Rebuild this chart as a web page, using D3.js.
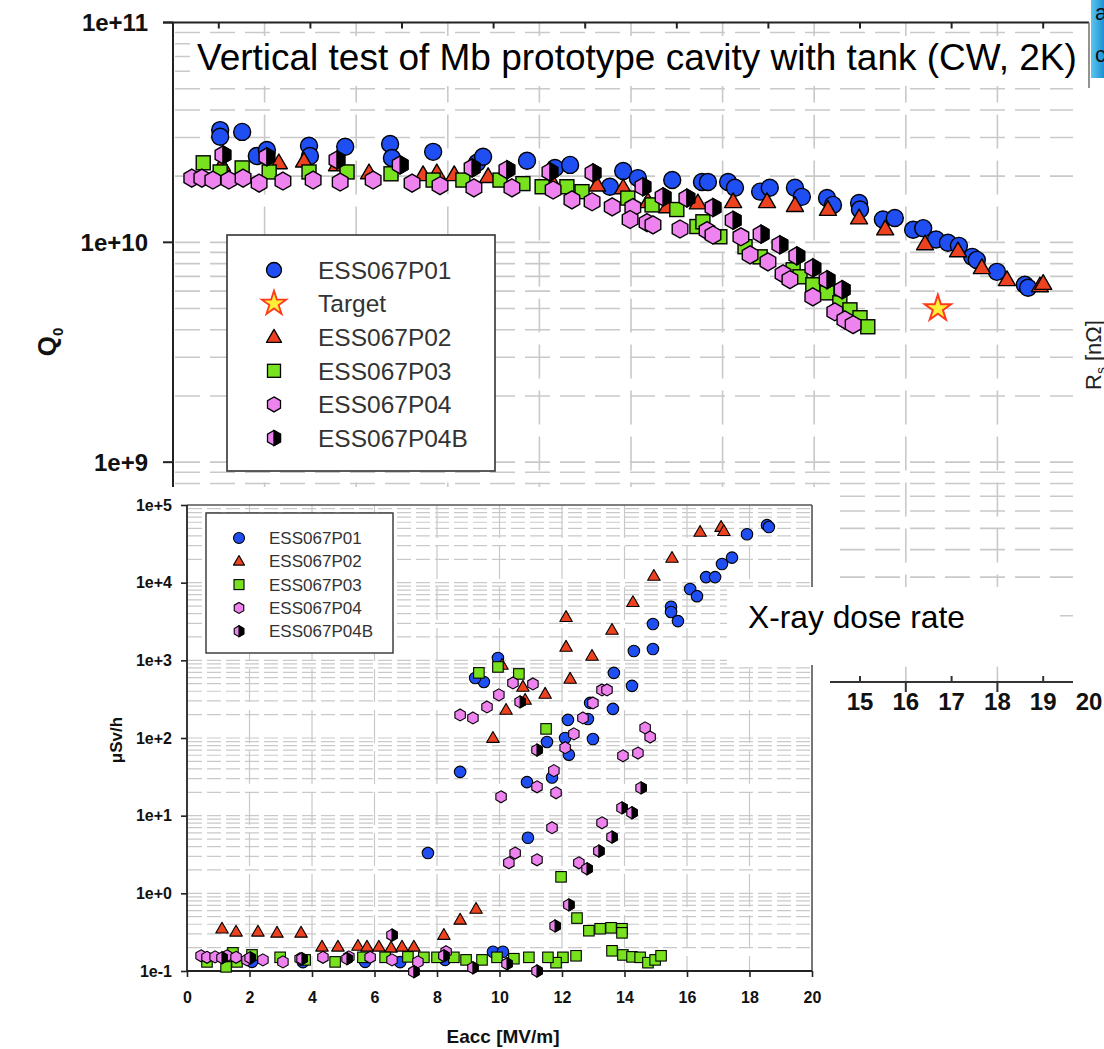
<!DOCTYPE html>
<html><head><meta charset="utf-8">
<script src="https://cdn.jsdelivr.net/npm/d3@7"></script>
<style>body{margin:0;background:#fff}svg{display:block}text{font-family:"Liberation Sans",Arial,Helvetica,sans-serif}</style>
</head><body><svg id="c" width="1104" height="1049"></svg>
<script>
// ---------------- DATA ----------------
const seriesNames = ["ESS067P01","Target","ESS067P02","ESS067P03","ESS067P04","ESS067P04B"];
const doseSeriesNames = ["ESS067P01","ESS067P02","ESS067P03","ESS067P04","ESS067P04B"];
const titleText = "Vertical test of Mb prototype cavity with tank (CW, 2K)";
const doseLabel = "X-ray dose rate";
const upperXTicks = [15,16,17,18,19,20];
const upperYTicks = [1e9,1e10,1e11];
const lowerXTicks = [0,2,4,6,8,10,12,14,16,18,20];
const lowerYTicks = [1e-1,1e0,1e1,1e2,1e3,1e4,1e5];

// Q0 vs Eacc  [Eacc (MV/m), Q0]
const q0_P01 = [[1.03,3.24e10],[1.03,3.02e10],[1.51,3.18e10],[1.83,2.47e10],[2.05,2.63e10],[2.97,2.75e10],[2.99,2.47e10],[3.76,2.72e10],[4.74,2.80e10],[4.78,2.42e10],[5.68,2.58e10],[6.64,2.30e10],[6.77,2.45e10],[7.73,2.35e10],[8.34,2.18e10],[8.67,2.25e10],[9.54,1.79e10],[9.83,2.11e10],[10.15,1.96e10],[10.90,1.92e10],[11.55,1.88e10],[11.68,1.88e10],[12.12,1.88e10],[12.27,1.77e10],[12.82,1.70e10],[13.03,1.77e10],[13.58,1.77e10],[13.73,1.61e10],[14.28,1.59e10],[14.41,1.48e10],[14.98,1.51e10],[15.0,1.41e10],[15.50,1.27e10],[15.76,1.29e10],[16.16,1.14e10],[16.38,1.16e10],[16.66,1.03e10],[16.92,9.95e9],[17.16,9.64e9],[17.45,8.59e9],[17.55,8.32e9],[17.99,7.34e9],[18.60,6.41e9],[18.67,6.21e9]];
const q0_Target = [[16.7,5.0e9]];
const q0_P02 = [[1.07,2.25e10],[2.31,2.30e10],[2.86,2.34e10],[3.58,2.25e10],[4.28,2.07e10],[5.46,2.03e10],[5.76,2.07e10],[6.14,2.03e10],[6.88,1.99e10],[8.28,1.88e10],[9.26,1.82e10],[9.83,1.77e10],[10.37,1.53e10],[10.79,1.45e10],[11.46,1.51e10],[12.23,1.53e10],[12.97,1.53e10],[13.58,1.47e10],[14.30,1.41e10],[14.98,1.29e10],[15.55,1.15e10],[16.42,9.84e9],[17.14,9.14e9],[17.66,7.66e9],[18.21,6.76e9],[18.93,6.34e9],[19.0,6.5e9]];
const q0_P03 = [[0.66,2.30e10],[1.03,2.09e10],[1.51,2.18e10],[2.10,2.09e10],[2.97,2.09e10],[3.80,2.09e10],[4.76,2.05e10],[5.68,1.92e10],[6.33,1.92e10],[7.14,1.92e10],[7.64,1.85e10],[8.06,1.79e10],[8.60,1.79e10],[8.93,1.70e10],[9.93,1.59e10],[10.46,1.48e10],[11.00,1.41e10],[11.44,1.18e10],[11.57,1.24e10],[11.94,1.06e10],[12.49,9.55e9],[12.82,8.59e9],[13.54,7.50e9],[13.69,6.97e9],[13.97,6.41e9],[14.28,5.89e9],[14.56,5.31e9],[14.78,4.93e9],[15.0,4.54e9],[15.17,4.13e9]];
const q0_P04 = [[0.41,1.96e10],[0.63,1.96e10],[0.87,1.92e10],[1.22,1.92e10],[1.53,1.96e10],[1.88,1.86e10],[2.40,1.90e10],[3.06,1.92e10],[3.65,1.88e10],[4.37,1.92e10],[5.22,1.86e10],[5.83,1.81e10],[6.57,1.77e10],[7.40,1.77e10],[8.30,1.73e10],[8.71,1.56e10],[9.15,1.53e10],[9.59,1.45e10],[10.04,1.44e10],[9.98,1.27e10],[10.35,1.23e10],[10.48,1.20e10],[11.07,1.15e10],[11.66,1.13e10],[11.79,1.08e10],[12.40,1.06e10],[12.60,8.77e9],[12.99,8.15e9],[13.32,7.19e9],[13.47,6.76e9],[13.97,5.65e9],[14.45,4.83e9],[14.67,4.44e9],[14.85,4.22e9]];
const q0_P04B = [[1.09,2.50e10],[2.05,2.45e10],[3.58,2.37e10],[4.96,2.25e10],[6.53,2.18e10],[7.29,2.14e10],[8.23,2.09e10],[9.17,2.07e10],[10.26,1.79e10],[10.70,1.61e10],[11.22,1.59e10],[11.79,1.44e10],[12.23,1.26e10],[12.84,1.09e10],[13.25,9.75e9],[13.62,8.68e9],[13.97,7.66e9],[14.28,6.76e9],[14.61,6.09e9]];

// X-ray dose rate vs Eacc  [Eacc (MV/m), dose (uSv/h)]
const dose_P01 = [[18.56,5.5e4],[18.62,5.2e4],[17.92,4.2e4],[17.44,2.1e4],[17.12,1.74e4],[16.61,1.18e4],[16.90,1.18e4],[16.10,8.3e3],[16.32,6.7e3],[15.49,4.9e3],[15.49,4.2e3],[15.71,3.2e3],[14.91,2.94e3],[14.91,1.40e3],[14.30,1.32e3],[13.66,689],[14.24,469],[13.63,237],[12.90,283],[12.83,176],[12.19,171],[12.10,100],[12.99,97],[11.52,89],[12.22,61],[9.95,1074],[9.50,527],[9.22,593],[8.74,36.6],[10.88,27],[11.68,31],[10.91,5.2],[7.71,3.3],[9.79,0.177],[10.11,0.177],[2.08,0.131],[3.71,0.13],[5.70,0.131],[6.82,0.13],[8.26,0.139]];
const dose_P02 = [[16.42,4.5e4],[17.09,5.2e4],[17.18,4.6e4],[15.52,2.08e4],[14.94,1.22e4],[14.27,5.6e3],[12.13,3.6e3],[13.60,2.46e3],[12.13,1.49e3],[12.96,1.14e3],[12.26,577],[11.46,370],[10.75,455],[10.82,309],[10.21,230],[10.08,873],[9.79,100],[9.25,0.63],[8.74,0.456],[8.22,0.29],[1.12,0.35],[1.57,0.32],[2.27,0.32],[2.88,0.31],[3.65,0.31],[4.32,0.205],[4.83,0.205],[5.47,0.21],[5.76,0.205],[6.14,0.205],[6.53,0.199],[6.88,0.205],[7.26,0.205]];
const dose_P03 = [[9.34,689],[9.95,822],[10.62,668],[11.49,131],[11.97,1.63],[12.48,0.48],[12.86,0.33],[13.22,0.35],[13.57,0.36],[13.92,0.35],[13.92,0.31],[13.60,0.182],[13.95,0.161],[14.24,0.152],[14.50,0.15],[14.75,0.128],[14.98,0.139],[15.17,0.157],[12.45,0.157],[12.03,0.15],[11.81,0.128],[11.55,0.15],[10.94,0.15],[10.46,0.144],[9.92,0.15],[9.44,0.139],[8.93,0.139],[8.54,0.15],[8.00,0.15],[7.58,0.15],[7.07,0.152],[6.34,0.15],[5.63,0.15],[4.74,0.131],[3.78,0.139],[2.98,0.15],[2.08,0.161],[1.60,0.131],[1.47,0.171],[1.25,0.113],[0.64,0.131]];
const dose_P04 = [[8.74,198],[9.15,181],[9.60,251],[9.98,359],[10.43,512],[11.07,497],[13.28,416],[13.44,416],[12.99,283],[12.67,181],[12.38,113],[12.10,75],[14.66,135],[14.82,103],[14.43,64],[13.95,59],[11.74,38],[11.20,23.5],[11.81,19.7],[10.05,17.5],[11.68,7.0],[13.28,8.1],[10.50,3.3],[10.30,2.47],[11.20,2.7],[12.54,2.47],[0.45,0.157],[0.64,0.15],[0.90,0.152],[1.28,0.157],[1.57,0.15],[1.92,0.139],[2.43,0.139],[3.07,0.131],[3.62,0.144],[4.35,0.15],[5.18,0.152],[5.86,0.15],[6.56,0.139],[7.39,0.131],[8.29,0.177]];
const dose_P04B = [[10.66,292],[11.20,70],[13.92,12.6],[14.24,10.9],[14.53,22.8],[13.60,5.3],[13.18,3.5],[12.80,2.07],[12.22,0.71],[11.78,0.38],[10.24,0.124],[9.15,0.11],[11.20,0.10],[1.12,0.148],[2.02,0.148],[3.68,0.144],[5.12,0.144],[6.56,0.29],[7.26,0.098],[8.22,0.157]];

// ---------------- STYLE ----------------
const C = {blue:"#1f4ef2", red:"#ec4220", green:"#78e21e", violet:"#ee82ee", starFill:"#ffee3a", starStroke:"#ff3a1c", grid:"#c9c9c9"};
const supFmt = d => { const e = Math.round(Math.log10(d)); return "1e" + (e >= 0 ? "+" : "") + e; };

const svg = d3.select("#c");
svg.append("rect").attr("width",1104).attr("height",1049).attr("fill","#fff");

function hexPath(r){ const c=r*Math.cos(Math.PI/6); return `M0,${-r}L${c},${-r/2}L${c},${r/2}L0,${r}L${-c},${r/2}L${-c},${-r/2}Z`; }
function hexRightPath(r){ const c=r*Math.cos(Math.PI/6); return `M0,${-r}L${c},${-r/2}L${c},${r/2}L0,${r}Z`; }
function triPath(s){ const h=s*0.866; return `M0,${-h*0.6}L${s/2},${h*0.4}L${-s/2},${h*0.4}Z`; }

function marker(g, type, x, y, s, sw){
  const t = g.append("g").attr("transform",`translate(${x},${y})`);
  if(type==="circle") t.append("circle").attr("r",s/2).attr("fill",C.blue).attr("stroke","#000").attr("stroke-width",sw);
  else if(type==="triangle") t.append("path").attr("d",triPath(s)).attr("fill",C.red).attr("stroke","#000").attr("stroke-width",sw).attr("stroke-linejoin","round");
  else if(type==="square") t.append("rect").attr("x",-s/2).attr("y",-s/2).attr("width",s).attr("height",s).attr("fill",C.green).attr("stroke","#000").attr("stroke-width",sw);
  else if(type==="hex") t.append("path").attr("d",hexPath(s/2)).attr("fill",C.violet).attr("stroke","#000").attr("stroke-width",sw);
  else if(type==="hexB"){ t.append("path").attr("d",hexPath(s/2)).attr("fill",C.violet).attr("stroke","#000").attr("stroke-width",sw);
    t.append("path").attr("d",hexRightPath(s/2)).attr("fill","#000").attr("stroke","#000").attr("stroke-width",sw); }
  else if(type==="star") t.append("path").attr("d",d3.symbol(d3.symbolStar, s*s*0.32)()).attr("fill",C.starFill).attr("stroke",C.starStroke).attr("stroke-width",sw*1.4);
}

// ================= UPPER CHART =================
const xU = d3.scaleLinear().domain([0,20]).range([173,1089]);
const yU = d3.scaleLog().domain([1e8,1e11]).range([682,22.5]);
const up = svg.append("g");

// grid
const hU = [];
for(let d=8; d<=10; d++) for(let m=1;m<=9;m++){ const v=m*Math.pow(10,d); if(v>1e8) hU.push(v); }
up.append("g").selectAll("line").data(hU).join("line")
  .attr("x1",175).attr("x2",1073).attr("y1",d=>yU(d)).attr("y2",d=>yU(d))
  .attr("stroke",C.grid).attr("stroke-width",1.6).attr("stroke-dasharray","25,10");
up.append("g").selectAll("line").data(d3.range(2,19,2)).join("line")
  .attr("x1",d=>xU(d)).attr("x2",d=>xU(d)).attr("y1",yU(1e11)).attr("y2",yU(1e8)+10)
  .attr("stroke",C.grid).attr("stroke-width",1.6).attr("stroke-dasharray","34,12");

// frame / axes
up.append("line").attr("x1",163).attr("x2",xU(20)).attr("y1",yU(1e11)).attr("y2",yU(1e11)).attr("stroke","#222").attr("stroke-width",2);
up.append("line").attr("x1",xU(20)).attr("x2",xU(20)).attr("y1",yU(1e11)).attr("y2",88).attr("stroke","#777").attr("stroke-width",1.6);
up.append("g").selectAll("line").data(d3.range(1,20,2)).join("line")
  .attr("x1",d=>xU(d)).attr("x2",d=>xU(d)).attr("y1",yU(1e11)).attr("y2",yU(1e11)+6).attr("stroke","#222").attr("stroke-width",2);
up.append("line").attr("x1",xU(0)).attr("x2",xU(0)).attr("y1",yU(1e11)).attr("y2",yU(1e8)).attr("stroke","#222").attr("stroke-width",2);
up.append("g").selectAll("line").data(upperYTicks).join("line")
  .attr("x1",163).attr("x2",xU(0)).attr("y1",d=>yU(d)).attr("y2",d=>yU(d)).attr("stroke","#222").attr("stroke-width",2);
up.append("g").selectAll("text").data(upperYTicks).join("text")
  .attr("x",148).attr("y",d=>yU(d)).attr("dy","0.36em").attr("text-anchor","end")
  .attr("font-size",24).attr("font-weight","bold").attr("fill","#111").text(supFmt);
// bottom axis
up.append("line").attr("x1",xU(0)).attr("x2",1073).attr("y1",yU(1e8)).attr("y2",yU(1e8)).attr("stroke","#333").attr("stroke-width",2);
up.append("g").selectAll("line").data(d3.range(1,20)).join("line")
  .attr("x1",d=>xU(d)).attr("x2",d=>xU(d))
  .attr("y1",d=> d%2 ? yU(1e8)-6 : yU(1e8)).attr("y2",d=> d%2 ? yU(1e8) : yU(1e8)+10)
  .attr("stroke","#333").attr("stroke-width",2);
up.append("g").selectAll("text").data(upperXTicks).join("text")
  .attr("x",d=>xU(d)).attr("y",710).attr("text-anchor","middle")
  .attr("font-size",24).attr("font-weight","bold").attr("fill","#111").text(d=>d);

// Q0 label
const q0 = up.append("text").attr("transform","translate(56,342) rotate(-90)").attr("text-anchor","middle")
  .attr("font-size",26).attr("font-weight","bold").attr("fill","#111");
q0.append("tspan").text("Q");
q0.append("tspan").attr("font-size",15).attr("dy",7).text("0");

// Rs label (cut by page edge, as in the reference)
const rs = up.append("text").attr("transform","translate(1101,390) rotate(-90)").attr("text-anchor","start")
  .attr("font-size",22).attr("fill","#222");
rs.append("tspan").text("R");
rs.append("tspan").attr("font-size",14).attr("dy",5).text("s");
rs.append("tspan").attr("dy",-5).text(" [nΩ]");

// title box
up.append("rect").attr("x",190).attr("y",36).attr("width",897).attr("height",50).attr("fill","#fff");
const title = up.append("text").attr("x",197).attr("y",70).attr("font-size",36).attr("fill","#000").text(titleText);
(function(){ const w = title.node().getComputedTextLength(); title.attr("font-size", 36*880/w); })();

// data
const upMarks = up.append("g");
[[q0_P01,"circle",17],[q0_P02,"triangle",17],[q0_P03,"square",14],[q0_P04,"hex",18],[q0_P04B,"hexB",18],[q0_Target,"star",26]]
  .forEach(([data,type,s]) => data.forEach(d => marker(upMarks,type,xU(d[0]),yU(d[1]),s,1.4)));

// legend
const lgU = up.append("g");
lgU.append("rect").attr("x",227).attr("y",235).attr("width",268).attr("height",236).attr("fill","#fff").attr("stroke","#333").attr("stroke-width",1.6);
const lgUTypes = [["circle",15],["star",24],["triangle",15],["square",13],["hex",15],["hexB",15]];
seriesNames.forEach((n,i) => {
  const y = 270 + i*33.6;
  marker(lgU, lgUTypes[i][0], 274, y, lgUTypes[i][1], 1.3);
  lgU.append("text").attr("x",318).attr("y",y).attr("dy","0.36em").attr("font-size",24.5).attr("fill","#333").text(n);
});

// ================= LOWER CHART =================
const lo = svg.append("g");
lo.append("rect").attr("x",0).attr("y",487).attr("width",830).attr("height",562).attr("fill","#fff");
const xL = d3.scaleLinear().domain([0,20]).range([187,812]);
const yL = d3.scaleLog().domain([0.1,1e5]).range([971,505]);

const hL = [];
for(let d=-1; d<=4; d++) for(let m=1;m<=9;m++){ const v=m*Math.pow(10,d); if(v>0.1001) hL.push(v); }
lo.append("g").selectAll("line").data(hL).join("line")
  .attr("x1",188).attr("x2",811).attr("y1",d=>yL(d)).attr("y2",d=>yL(d))
  .attr("stroke",C.grid).attr("stroke-width",1.2).attr("stroke-dasharray","14,5");
lo.append("g").selectAll("line").data(d3.range(2,19,2)).join("line")
  .attr("x1",d=>xL(d)).attr("x2",d=>xL(d)).attr("y1",505).attr("y2",971)
  .attr("stroke",C.grid).attr("stroke-width",1.2).attr("stroke-dasharray","33,8");

// frame
lo.append("line").attr("x1",187).attr("x2",812).attr("y1",505).attr("y2",505).attr("stroke","#555").attr("stroke-width",1.6);
lo.append("line").attr("x1",812).attr("x2",812).attr("y1",505).attr("y2",971).attr("stroke","#555").attr("stroke-width",1.6);

// axes
const axL = lo.append("g").attr("transform","translate(187,0)")
  .call(d3.axisLeft(yL).tickValues(lowerYTicks).tickFormat(supFmt).tickSize(6).tickPadding(9));
const axB = lo.append("g").attr("transform","translate(0,971)")
  .call(d3.axisBottom(xL).tickValues(lowerXTicks).tickFormat(d3.format("d")).tickSize(6).tickPadding(15));
[axL,axB].forEach(a => { a.select(".domain").attr("stroke","#222").attr("stroke-width",1.8);
  a.selectAll(".tick line").attr("stroke","#222").attr("stroke-width",1.6);
  a.selectAll("text").attr("font-size",16).attr("font-weight","bold").attr("fill","#111").attr("font-family","Liberation Sans, Arial, sans-serif"); });
axL.select(".domain").attr("d","M0,505V971");
axB.select(".domain").attr("d","M187,0H812");

lo.append("text").attr("transform","translate(122,740) rotate(-90)").attr("text-anchor","middle")
  .attr("font-size",17).attr("font-weight","bold").attr("fill","#111").text("μSv/h");
lo.append("text").attr("x",503).attr("y",1043).attr("text-anchor","middle")
  .attr("font-size",19).attr("font-weight","bold").attr("fill","#111").text("Eacc [MV/m]");

// data
const loMarks = lo.append("g");
[[dose_P01,"circle",11.5],[dose_P02,"triangle",12.5],[dose_P03,"square",10.5],[dose_P04,"hex",12],[dose_P04B,"hexB",12]]
  .forEach(([data,type,s]) => data.forEach(d => marker(loMarks,type,xL(d[0]),yL(d[1]),s,1.1)));

// legend
const lgL = lo.append("g");
lgL.append("rect").attr("x",206).attr("y",513).attr("width",187).attr("height",140).attr("fill","#fff").attr("stroke","#333").attr("stroke-width",1.4);
const lgLTypes = [["circle",11],["triangle",11],["square",10],["hex",11],["hexB",11]];
doseSeriesNames.forEach((n,i) => {
  const y = 538 + i*23.3;
  marker(lgL, lgLTypes[i][0], 239, y, lgLTypes[i][1], 1.1);
  lgL.append("text").attr("x",269).attr("y",y).attr("dy","0.36em").attr("font-size",17).attr("fill","#333").text(n);
});

// X-ray label box
svg.append("rect").attr("x",727).attr("y",587).attr("width",333).attr("height",78).attr("fill","#fff");
const xr = svg.append("text").attr("x",748).attr("y",628).attr("font-size",31).attr("fill","#000").text(doseLabel);
(function(){ const w = xr.node().getComputedTextLength(); xr.attr("font-size", 31*217/w); })();

// top-right fragment of neighbouring slide
const grad = svg.append("defs").append("linearGradient").attr("id","bg").attr("x1",0).attr("x2",1).attr("y1",0).attr("y2",0);
grad.append("stop").attr("offset","0").attr("stop-color","#5cc6ee");
grad.append("stop").attr("offset","1").attr("stop-color","#1d90d4");
svg.append("rect").attr("x",1091).attr("y",0).attr("width",13).attr("height",78).attr("fill","url(#bg)");
svg.append("text").attr("x",1095).attr("y",20).attr("font-size",22).attr("fill","#111").text("a");
svg.append("text").attr("x",1095).attr("y",62).attr("font-size",22).attr("fill","#111").text("c");
</script></body></html>
